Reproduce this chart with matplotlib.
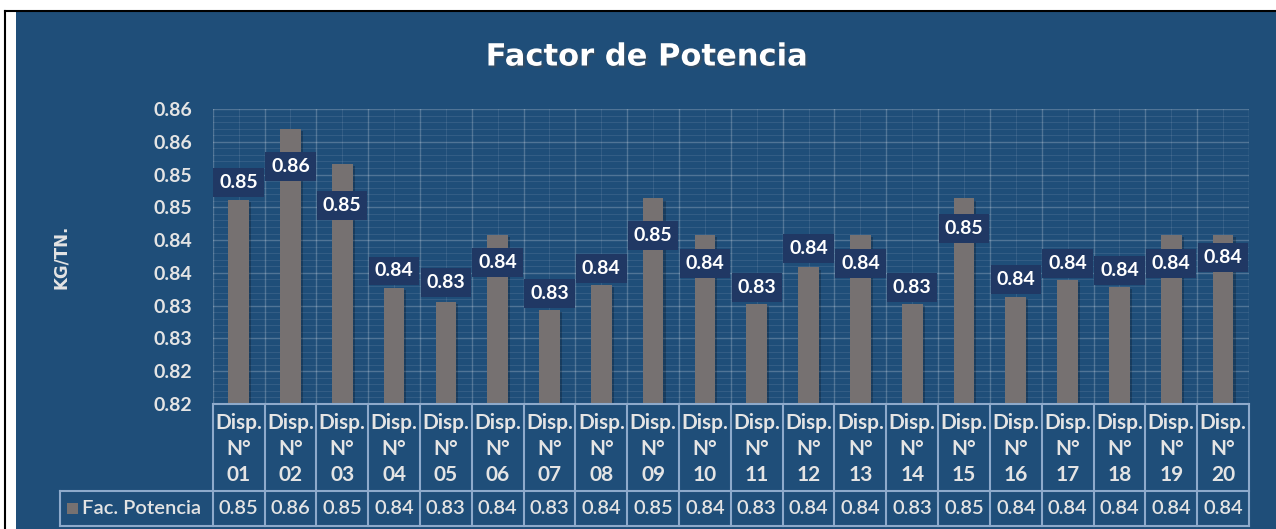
import matplotlib
matplotlib.use("Agg")
import matplotlib.pyplot as plt
import numpy as np
from matplotlib.patches import Rectangle
from matplotlib.lines import Line2D
import matplotlib.patheffects as pe
from matplotlib.ticker import FixedLocator, FormatStrFormatter

# ---------------- data ----------------
categories = ["01", "02", "03", "04", "05", "06", "07", "08", "09", "10",
              "11", "12", "13", "14", "15", "16", "17", "18", "19", "20"]
category_prefix = ["Disp.", "N°"]
series_name = "Fac. Potencia"
values = [0.8495, 0.8599, 0.8548, 0.8366, 0.8345, 0.8443, 0.8334, 0.8370,
          0.8497, 0.8443, 0.8342, 0.8396, 0.8443, 0.8342, 0.8497, 0.8353,
          0.8377, 0.8367, 0.8443, 0.8443]
y_tick_start = 0.8196
y_tick_step = 0.0048
n_y_ticks = 10
y_title = "KG/TN."
title = "Factor de Potencia"

# vertical offset (pixels) of each data label from the bar top (positive = above)
label_offsets_px = [17, -38, -42, 17, 20, -27, 16, 17, -37, -28,
                    17, 19, -28, 17, -30, 17, 17, 17, -28, -22]

# ---------------- style ----------------
BG = "#1F4E79"
BAR = "#767171"
LBL = "#203864"
TXT = "#E4E4E4"
TABLE_LINE = "#8EAACB"
FONT = ["Lato", "DejaVu Sans"]

W, H, DPI = 1276, 529, 100
fig = plt.figure(figsize=(W / DPI, H / DPI), dpi=DPI, facecolor="white")


def fx(px):
    return px / W


def fy(py):
    return 1 - py / H


# blue panel and black frame
fig.patches.append(Rectangle((fx(16), 0), 1 - fx(16), fy(12), transform=fig.transFigure,
                             facecolor=BG, edgecolor="none", zorder=-10))
fig.add_artist(Line2D([fx(4.5), fx(4.5)], [0, fy(11)], color="black", lw=1.5, zorder=-5))
fig.add_artist(Line2D([fx(4.5), 1], [fy(11), fy(11)], color="black", lw=1.5, zorder=-5))

# plot area
AX_L, AX_R, AX_T, AX_B = 212.7, 1249.0, 109.0, 404.0
ax = fig.add_axes([fx(AX_L), fy(AX_B), fx(AX_R) - fx(AX_L), fy(AX_T) - fy(AX_B)])
ax.set_zorder(2)
ax.set_facecolor("none")

x = np.arange(len(categories))
bars = ax.bar(x, values, width=0.4, color=BAR, zorder=3)
for b in bars:
    b.set_path_effects([pe.SimplePatchShadow(offset=(1.5, -1.5), shadow_rgbFace="black", alpha=0.22),
                        pe.Normal()])

yticks = [y_tick_start + i * y_tick_step for i in range(n_y_ticks)]
ax.set_ylim(yticks[0], yticks[-1])
ax.set_xlim(-0.5, len(categories) - 0.5)
ax.yaxis.set_major_locator(FixedLocator(yticks))
minor_y = [yticks[0] + k * y_tick_step / 5 for k in range(5 * (n_y_ticks - 1) + 1)]
ax.yaxis.set_minor_locator(FixedLocator(minor_y))
ax.yaxis.set_major_formatter(FormatStrFormatter("%.2f"))
ax.xaxis.set_major_locator(FixedLocator(np.arange(-0.5, len(categories), 1.0)))
ax.xaxis.set_minor_locator(FixedLocator(x))
ax.tick_params(axis="x", which="both", length=0, labelbottom=False)
ax.tick_params(axis="y", which="both", length=0, pad=14.5, labelsize=14, labelcolor=TXT)
for lab in ax.get_yticklabels():
    lab.set_fontfamily(FONT)
    lab.set_fontweight("bold")
ax.grid(which="major", color="white", alpha=0.22, lw=1.0, zorder=1)
ax.grid(which="minor", color="white", alpha=0.09, lw=0.8, zorder=1)
ax.set_axisbelow(True)
for s in ax.spines.values():
    s.set_visible(False)

# data labels
for xi, v, off in zip(x, values, label_offsets_px):
    ax.annotate(f"{v:.2f}", xy=(xi, v), xytext=(0, off), textcoords="offset pixels",
                ha="center", va="center", color="white", fontsize=14, fontweight="bold",
                family=FONT, zorder=6,
                bbox=dict(boxstyle="square,pad=0.3", fc=LBL, ec="none"))

# titles
fig.text(fx(646), fy(57), title, ha="center", va="center", fontsize=22, fontweight="bold",
         color="white", family="DejaVu Sans", zorder=5,
         path_effects=[pe.SimplePatchShadow(offset=(1.5, -1.5), alpha=0.4), pe.Normal()])
fig.text(fx(61), fy(257), y_title, rotation=90, ha="center", va="center", fontsize=12,
         fontweight="bold", color=TXT, family="DejaVu Sans", zorder=5)

# ---------------- data table ----------------
ax_w = AX_R - AX_L
ax_h = AX_B - AX_T


def axx(px):
    return (px - AX_L) / ax_w


def axy(py):
    return (AX_B - py) / ax_h


ROW_MID, ROW_BOT, LEG_L = 491, 526, 60
n = len(categories)
lk = dict(color=TABLE_LINE, lw=1.5, transform=ax.transAxes, clip_on=False, zorder=4)
ax.add_line(Line2D([0, 1], [0, 0], **lk))
ax.add_line(Line2D([axx(LEG_L), 1], [axy(ROW_MID), axy(ROW_MID)], **lk))
ax.add_line(Line2D([axx(LEG_L), 1], [axy(ROW_BOT), axy(ROW_BOT)], **lk))
ax.add_line(Line2D([axx(LEG_L), axx(LEG_L)], [axy(ROW_MID), axy(ROW_BOT)], **lk))
for i in range(n + 1):
    ax.add_line(Line2D([i / n, i / n], [0, axy(ROW_BOT)], **lk))

header_rows_py = [423, 449, 475]
for i, (c, v) in enumerate(zip(categories, values)):
    cx = (i + 0.5) / n
    for txt, py in zip(category_prefix + [c], header_rows_py):
        ax.text(cx, axy(py), txt, transform=ax.transAxes, ha="center", va="center",
                fontsize=15, fontweight="bold", color=TXT, family=FONT, clip_on=False)
    ax.text(cx, axy(508.5), f"{v:.2f}", transform=ax.transAxes, ha="center", va="center",
            fontsize=14.5, fontweight="semibold", color=TXT, family=FONT, clip_on=False)

# legend key + series name
ax.add_patch(Rectangle((axx(67), axy(514)), axx(78) - axx(67), axy(503) - axy(514),
                       transform=ax.transAxes, facecolor=BAR, edgecolor="none", clip_on=False))
ax.text(axx(82), axy(508.5), series_name, transform=ax.transAxes, ha="left", va="center",
        fontsize=14.5, fontweight="semibold", color=TXT, family=FONT, clip_on=False)

fig.savefig("out.png", dpi=DPI, facecolor=fig.get_facecolor())
